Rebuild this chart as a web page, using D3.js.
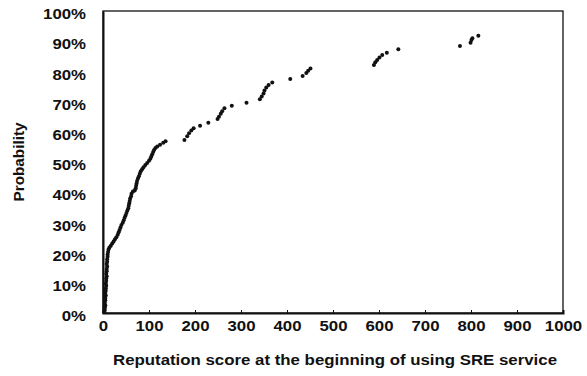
<!DOCTYPE html>
<html>
<head>
<meta charset="utf-8">
<script src="https://cdn.jsdelivr.net/npm/d3@7"></script>
<style>
  html, body { margin: 0; padding: 0; background: #fff; }
  svg { display: block; }
  text { font-family: "Liberation Sans", Arial, Helvetica, sans-serif; font-weight: bold; fill: #111; }
</style>
</head>
<body>
<svg id="chart" width="587" height="376"></svg>
<script>
// ---- data ----
const scores = [
  3,4,4,5,4,5,5,6,5,6,6,7,6,7,7,8,7,8,8,9,8,9,9,10,10,11,12,
  14,17,20,23,26,29,32,34,36,38,40,43,45,47,49,51,53,55,56,57,58,59,61,62,
  65,69,71,72,73,74,76,78,80,82,85,88,92,96,100,103,105,107,109,111,114,118,124,131,136,
  177,183,187,192,197,211,229,249,252,256,259,264,280,312,341,345,349,351,355,360,368,
  407,434,442,446,451,589,592,596,601,607,617,642,776,799,801,803,816
];
const probabilities = [
  0.3,1,1.8,2.6,3.4,4.2,5,5.8,6.6,7.4,8.2,9,9.8,10.6,11.4,12.2,13,13.8,14.6,15.4,16.2,17,17.8,18.6,19.4,20.2,21,
  21.7,22.3,23,23.7,24.4,25.1,25.9,26.7,27.5,28.3,29.1,29.9,30.7,31.5,32.3,33.1,33.9,34.7,35.5,36.3,37.1,37.9,38.7,39.5,
  40.2,40.6,41.3,42.1,42.9,43.7,44.5,45.3,46.1,46.9,47.6,48.3,49,49.7,50.4,51.1,51.8,52.6,53.3,54,54.6,55.1,55.7,56.4,56.9,
  57.3,58.5,59.5,60.4,61.2,62,63,64.2,65,66,66.8,67.8,68.6,69.6,70.8,71.7,72.7,73.7,74.7,75.5,76.3,
  77.5,78.5,79.5,80.2,81,82.1,83,83.8,84.6,85.4,86.2,87.3,88.4,89.5,90.4,91,91.8
];
const xTickValues = [0,100,200,300,400,500,600,700,800,900,1000];
const yTickValues = [0,10,20,30,40,50,60,70,80,90,100];
const xTitle = "Reputation score at the beginning of using SRE service";
const yTitle = "Probability";

(function () {
  // ---- layout ----
  const pl = 103, pr = 563, pt = 11, pb = 313;
  const svg = d3.select("#chart");
  const x = d3.scaleLinear().domain([0, 1000]).range([pl, pr]);
  const y = d3.scaleLinear().domain([0, 100]).range([pb, pt]);
  const stretch = 1.2;

  function widen(sel) {
    sel.each(function () {
      const w = this.getComputedTextLength();
      d3.select(this).attr("textLength", w * stretch).attr("lengthAdjust", "spacingAndGlyphs");
    });
  }

  // frame
  svg.append("rect")
    .attr("x", pl).attr("y", pt)
    .attr("width", pr - pl).attr("height", pb - pt)
    .attr("fill", "none").attr("stroke", "#111").attr("stroke-width", 1.3);

  // axes
  const xAxis = d3.axisBottom(x).tickValues(xTickValues).tickSize(-3).tickPadding(15).tickFormat(d3.format("d"));
  const gx = svg.append("g").attr("transform", `translate(0,${pb})`).call(xAxis);
  gx.select(".domain").attr("stroke", "#111").attr("stroke-width", 2);
  gx.selectAll(".tick line").attr("stroke", "#111").attr("stroke-width", 1);
  gx.selectAll(".tick text").attr("font-size", 14).attr("font-family", null).attr("fill", "#111").attr("dy", "0.2em").call(widen);

  const yAxis = d3.axisLeft(y).tickValues(yTickValues).tickSize(0).tickPadding(17).tickFormat(d => d + "%");
  const gy = svg.append("g").attr("transform", `translate(${pl},0)`).call(yAxis);
  gy.select(".domain").attr("stroke", "#111").attr("stroke-width", 2);
  gy.selectAll(".tick text").attr("font-size", 14).attr("font-family", null).attr("fill", "#111").attr("dy", "0.55em").call(widen);

  // points
  const pts = scores.map((s, i) => ({ s, p: probabilities[i] }));
  svg.append("g").selectAll("circle").data(pts).join("circle")
    .attr("cx", d => x(d.s)).attr("cy", d => y(d.p))
    .attr("r", 2).attr("fill", "#111");

  // titles
  svg.append("text")
    .attr("x", (113 + 557) / 2).attr("y", 365)
    .attr("text-anchor", "middle").attr("font-size", 14)
    .text(xTitle)
    .attr("textLength", 444).attr("lengthAdjust", "spacingAndGlyphs");

  svg.append("text")
    .attr("transform", `translate(24,162) rotate(-90)`)
    .attr("text-anchor", "middle").attr("font-size", 14)
    .text(yTitle)
    .attr("textLength", 79).attr("lengthAdjust", "spacingAndGlyphs");
})();
</script>
</body>
</html>
